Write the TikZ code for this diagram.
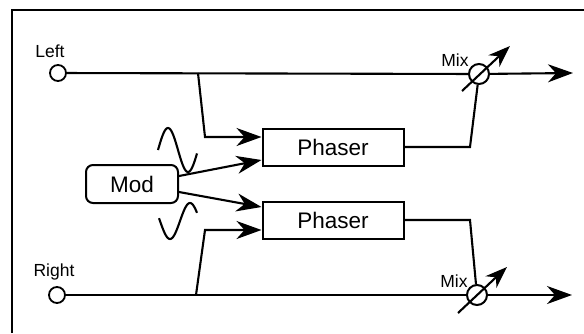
\documentclass[tikz,border=0pt]{standalone}
\usepackage{fontspec}
\setmainfont{Liberation Sans}
\usetikzlibrary{arrows.meta,calc}
\begin{document}
\begin{tikzpicture}[x=1pt,y=-1pt,
  wire/.style={line width=2.1pt},
  arr/.style={wire,-{Stealth[length=25pt,width=18pt,inset=8pt]}},
  marr/.style={wire,-{Stealth[length=22pt,width=16pt,inset=7pt]}},
  box/.style={draw,line width=2pt,minimum width=141pt,minimum height=37pt,inner sep=0pt,font=\fontsize{22.5}{24}\selectfont},
  modbox/.style={draw,line width=2pt,rounded corners=7pt,minimum width=92pt,minimum height=38pt,inner sep=0pt,font=\fontsize{22.5}{24}\selectfont},
  port/.style={draw,circle,line width=1.8pt,fill=white,minimum size=16pt,inner sep=0pt},
  mixc/.style={draw,circle,line width=2pt,fill=white,minimum size=20pt,inner sep=0pt},
  lbl/.style={inner sep=0pt,font=\fontsize{17.5}{19}\selectfont},
  wave/.style={line width=2.1pt}
]
\useasboundingbox (0,0) rectangle (584,333);
% frame
\draw[line width=1.6pt] (12,333) -- (12,10) -- (584,10);

% nodes
\node[port] (inL) at (58,73) {};
\node[port] (inR) at (57,295) {};
\node[lbl] (tL) at (50,51) {Left};
\node[lbl] (tR) at (54,272) {Right};
\node[box] (P1) at (333,147) {Phaser};
\node[box] (P2) at (333,220) {Phaser};
\node[modbox] (Mod) at (132,184) {Mod};
\node[mixc] (mixL) at (479,74) {};
\node[mixc] (mixR) at (477,295) {};
\node[lbl] (tML) at (455,60) {Mix};
\node[lbl] (tMR) at (454,281) {Mix};

% free ends
\coordinate (outL) at (573,73);
\coordinate (outR) at (572,295);
\coordinate (brL) at (198,73);
\coordinate (kL) at (205,137);
\coordinate (brR) at (196,295);
\coordinate (kR) at (205,230);
\coordinate (o1) at (470,147);
\coordinate (o2) at (470,220);
\coordinate (maL1) at (462,91);
\coordinate (maL2) at (510,46);
\coordinate (maR1) at (458,313);
\coordinate (maR2) at (507,267);

% main lines
\draw[wire] (inL) -- (mixL);
\draw[arr] (mixL) -- (outL);
\draw[wire] (inR) -- (mixR);
\draw[arr] (mixR) -- (outR);

% branches to phasers
\draw[arr] (brL) -- (kL) -- (kL -| P1.west);
\draw[arr] (brR) -- (kR) -- (kR -| P2.west);

% mod to phasers
\draw[arr] ($(Mod.east)+(0,-8)$) -- ($(P1.west)+(0,13)$);
\draw[arr] ($(Mod.east)+(0,8)$) -- ($(P2.west)+(0,-13)$);

% phaser outputs to mix
\draw[wire] (P1.east) -- (o1) -- (mixL);
\draw[wire] (P2.east) -- (o2) -- (mixR);

% mix controls
\draw[marr] (maL1) -- (maL2);
\draw[marr] (maR1) -- (maR2);

% sine waves
\draw[wave] plot[domain=158:197,samples=60,smooth] (\x,{150-22*sin(9*(\x-158))});
\draw[wave] plot[domain=159:197,samples=60,smooth] (\x,{221+18*sin(9*(\x-160))});
\end{tikzpicture}
\end{document}
